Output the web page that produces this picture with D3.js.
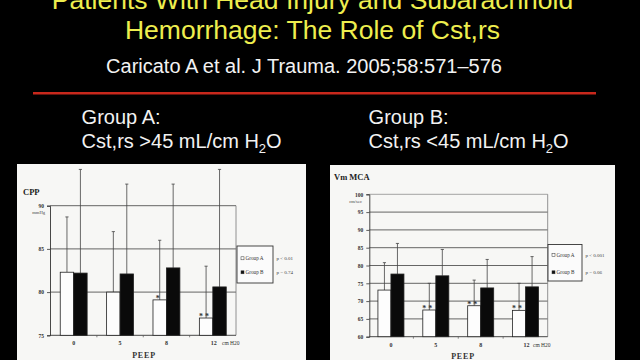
<!DOCTYPE html>
<html><head><meta charset="utf-8">
<script src="https://cdnjs.cloudflare.com/ajax/libs/d3/7.8.5/d3.min.js"></script>
<style>html,body{margin:0;padding:0;background:#000;}svg{display:block;}</style>
</head><body>
<svg id="c" width="640" height="360"></svg>
<script>
// ---- data ----
const titleLines = ["Patients With Head Injury and Subarachnoid", "Hemorrhage: The Role of Cst,rs"];
const citation = "Caricato A et al. J Trauma. 2005;58:571\u2013576";
const groupHeads = ["Group A:", "Group B:"];
const groupDefs = [">45", "<45"];
const peep = ["0", "5", "8", "12"];
const groups = ["A", "B"];
const legendLabels = ["Group A", "Group B"];
// CPP panel (mmHg)
const cppA = [82.3, 80.0, 79.1, 77.0];
const cppB = [82.2, 82.1, 82.8, 80.6];
const cppAtop = [88.7, 87.0, 86.0, 83.0];
const cppBtop = [94.2, 92.5, 92.5, 94.2];
const cppStars = ["", "", "*", "* *"];
const cppTicks = [75, 80, 85, 90];
const cppP = ["p < 0.01", "p = 0.74"];
// Vm MCA panel (cm/sec)
const vmA = [73.1, 67.5, 68.7, 67.4];
const vmB = [77.6, 77.1, 73.7, 74.0];
const vmAtop = [80.8, 75.0, 75.9, 75.0];
const vmBtop = [86.2, 84.5, 81.7, 82.5];
const vmStars = ["", "* *", "* *", "* *"];
const vmTicks = [60, 65, 70, 75, 80, 85, 90, 95, 100];
const vmP = ["p < 0.001", "p = 0.06"];

const svg = d3.select("#c");
const SANS = "'Liberation Sans', Arial, sans-serif";
const SERIF = "'Liberation Serif', 'Times New Roman', serif";

svg.append("rect").attr("width", 640).attr("height", 360).attr("fill", "#000");

// title
svg.selectAll("text.title").data(titleLines).join("text")
  .attr("class", "title")
  .attr("x", 312.5).attr("y", (d, i) => 8.5 + i * 30)
  .attr("text-anchor", "middle")
  .attr("font-family", SANS).attr("font-size", 26.5)
  .attr("fill", "#eeee4e").text(d => d);

svg.append("text").attr("x", 304).attr("y", 72.7)
  .attr("text-anchor", "middle").attr("font-family", SANS).attr("font-size", 20)
  .attr("fill", "#f2f2f2").text(citation);

svg.append("line").attr("x1", 33).attr("x2", 596).attr("y1", 93.3).attr("y2", 93.3)
  .attr("stroke", "#c8281c").attr("stroke-width", 2.6);

// group definitions
const gx = [81.6, 368.6];
groupHeads.forEach((h, i) => {
  svg.append("text").attr("x", gx[i]).attr("y", 124)
    .attr("font-family", SANS).attr("font-size", 20).attr("fill", "#f2f2f2").text(h);
  const t = svg.append("text").attr("x", gx[i]).attr("y", 148)
    .attr("font-family", SANS).attr("font-size", 20).attr("fill", "#f2f2f2");
  t.append("tspan").text("Cst,rs " + groupDefs[i] + " mL/cm H");
  t.append("tspan").attr("font-size", 13).attr("dy", 5).text("2");
  t.append("tspan").attr("dy", -5).text("O");
});

function drawPanel(cfg) {
  const g = svg.append("g");
  g.append("rect").attr("x", cfg.panel[0]).attr("y", cfg.panel[1])
    .attr("width", cfg.panel[2]).attr("height", cfg.panel[3]).attr("fill", "#f7f7f5");

  const y = d3.scaleLinear().domain(cfg.domain).range([cfg.y0, cfg.y1]);
  const x0 = d3.scaleBand().domain(peep).range([cfg.x0, cfg.x1])
    .paddingInner(0.42).paddingOuter(0.21);
  const x1 = d3.scaleBand().domain(groups).range([0, x0.bandwidth()]);

  // gridlines
  g.selectAll("line.grid").data(cfg.ticks.slice(1)).join("line")
    .attr("x1", cfg.axisX).attr("x2", cfg.rightX)
    .attr("y1", d => y(d)).attr("y2", d => y(d))
    .attr("stroke", (d, i, a) => (i === a.length - 1 && cfg.lightTop) ? "#9a9a9a" : "#555")
    .attr("stroke-width", 0.9);
  // right border
  g.append("line").attr("x1", cfg.rightX).attr("x2", cfg.rightX)
    .attr("y1", y(cfg.domain[0])).attr("y2", y(cfg.domain[1]))
    .attr("stroke", "#777").attr("stroke-width", 0.8);

  // y axis
  const yAxis = d3.axisLeft(y).tickValues(cfg.ticks).tickSize(3).tickPadding(3);
  const ya = g.append("g").attr("transform", `translate(${cfg.axisX},0)`).call(yAxis);
  ya.select(".domain").attr("stroke", "#333").attr("stroke-width", 0.9);
  ya.selectAll(".tick line").attr("stroke", "#333").attr("stroke-width", 0.8);
  ya.selectAll(".tick text").attr("font-family", SERIF).attr("font-size", 5.5)
    .attr("font-weight", "bold").attr("fill", "#333");

  // x axis line with small ticks at band boundaries
  const base = y(cfg.domain[0]);
  g.append("line").attr("x1", cfg.axisX).attr("x2", cfg.rightX).attr("y1", base).attr("y2", base)
    .attr("stroke", "#333").attr("stroke-width", 0.9);
  g.selectAll("line.xt").data(peep.slice(1)).join("line")
    .attr("x1", d => x0(d) - x0.step() * 0.21).attr("x2", d => x0(d) - x0.step() * 0.21)
    .attr("y1", base).attr("y2", base + 2).attr("stroke", "#555").attr("stroke-width", 0.7);

  // bars
  const rows = peep.map((p, i) => ({ p, i }));
  const series = [
    { key: "A", vals: cfg.A, tops: cfg.Atop, fill: "#fdfdfd" },
    { key: "B", vals: cfg.B, tops: cfg.Btop, fill: "#0a0a0a" }
  ];
  series.forEach(s => {
    const bx = d => x0(d.p) + x1(s.key);
    // error bars
    g.selectAll(null).data(rows).join("line")
      .attr("x1", d => bx(d) + x1.bandwidth() / 2).attr("x2", d => bx(d) + x1.bandwidth() / 2)
      .attr("y1", d => y(s.vals[d.i])).attr("y2", d => y(s.tops[d.i]))
      .attr("stroke", "#444").attr("stroke-width", 0.8);
    g.selectAll(null).data(rows).join("line")
      .attr("x1", d => bx(d) + x1.bandwidth() / 2 - 1.6).attr("x2", d => bx(d) + x1.bandwidth() / 2 + 1.6)
      .attr("y1", d => y(s.tops[d.i])).attr("y2", d => y(s.tops[d.i]))
      .attr("stroke", "#444").attr("stroke-width", 0.8);
    g.selectAll(null).data(rows).join("rect")
      .attr("x", bx).attr("width", x1.bandwidth())
      .attr("y", d => y(s.vals[d.i])).attr("height", d => base - y(s.vals[d.i]))
      .attr("fill", s.fill).attr("stroke", "#222").attr("stroke-width", 0.8);
  });
  // significance stars
  g.selectAll(null).data(rows).join("text")
    .attr("x", d => x0(d.p) + x1("A") + x1.bandwidth() / 2 - 2)
    .attr("y", d => y(cfg.A[d.i]) + 1)
    .attr("text-anchor", "middle").attr("font-family", SERIF).attr("font-size", 8)
    .attr("font-weight", "bold").attr("fill", "#333").text(d => cfg.stars[d.i]);

  // category labels
  g.selectAll(null).data(peep).join("text")
    .attr("x", d => x0(d) + x0.bandwidth() / 2 + (d === "12" ? 1 : 0)).attr("y", base + 10)
    .attr("text-anchor", "middle").attr("font-family", SERIF).attr("font-size", 6)
    .attr("font-weight", "bold").attr("fill", "#333").text(d => d);
  g.append("text").attr("x", cfg.unitX).attr("y", base + 10)
    .attr("font-family", SERIF).attr("font-size", 5.5).attr("fill", "#333").text("cm H20");
  g.append("text").attr("x", cfg.peepX).attr("y", base + 22.5)
    .attr("text-anchor", "middle").attr("font-family", SERIF).attr("font-size", 8)
    .attr("font-weight", "bold").attr("letter-spacing", 0.8).attr("fill", "#333").text("PEEP");

  // panel title and unit
  g.append("text").attr("x", cfg.titleXY[0]).attr("y", cfg.titleXY[1])
    .attr("font-family", SERIF).attr("font-size", cfg.titleSize).attr("font-weight", "bold")
    .attr("fill", "#222").text(cfg.title);
  g.append("text").attr("x", cfg.unitXY[0]).attr("y", cfg.unitXY[1]).attr("text-anchor", "end")
    .attr("font-family", SERIF).attr("font-size", 4.6).attr("fill", "#444").text(cfg.unit);

  // legend
  const L = cfg.legend;
  g.append("rect").attr("x", L[0]).attr("y", L[1]).attr("width", L[2]).attr("height", L[3])
    .attr("fill", "#fbfbfb").attr("stroke", "#333").attr("stroke-width", 0.9);
  legendLabels.forEach((lab, i) => {
    const ly = cfg.legendY[i];
    g.append("rect").attr("x", L[0] + 4).attr("y", ly - 3.2).attr("width", 3).attr("height", 3)
      .attr("fill", i === 0 ? "#fff" : "#111").attr("stroke", "#333").attr("stroke-width", 0.5);
    g.append("text").attr("x", L[0] + 8.5).attr("y", ly).attr("font-family", SERIF)
      .attr("font-size", 5.2).attr("fill", "#333").text(lab);
    g.append("text").attr("x", L[0] + L[2] + 3.5).attr("y", ly).attr("font-family", SERIF)
      .attr("font-size", 5).attr("fill", "#444").text(cfg.p[i]);
  });
}

drawPanel({
  panel: [17, 164, 289, 200], domain: [75, 90], y0: 335.3, y1: 205.7,
  x0: 50.5, x1: 236, axisX: 50, rightX: 236, ticks: cppTicks, lightTop: false,
  A: cppA, B: cppB, Atop: cppAtop, Btop: cppBtop, stars: cppStars,
  unitX: 222, peepX: 144, title: "CPP", titleXY: [23, 195], titleSize: 8.5,
  unit: "mmHg", unitXY: [45, 214],
  legend: [237, 246, 36, 37], legendY: [260, 274], p: cppP
});
drawPanel({
  panel: [330, 165, 285, 200], domain: [60, 100], y0: 336.7, y1: 194.3,
  x0: 368.5, x1: 548, axisX: 369.3, rightX: 547.7, ticks: vmTicks, lightTop: true,
  A: vmA, B: vmB, Atop: vmAtop, Btop: vmBtop, stars: vmStars,
  unitX: 533, peepX: 463, title: "Vm MCA", titleXY: [334, 180], titleSize: 8.5,
  unit: "cm/sec", unitXY: [362, 203],
  legend: [548, 244.5, 34, 36.5], legendY: [256.5, 274], p: vmP
});
</script>
</body></html>
